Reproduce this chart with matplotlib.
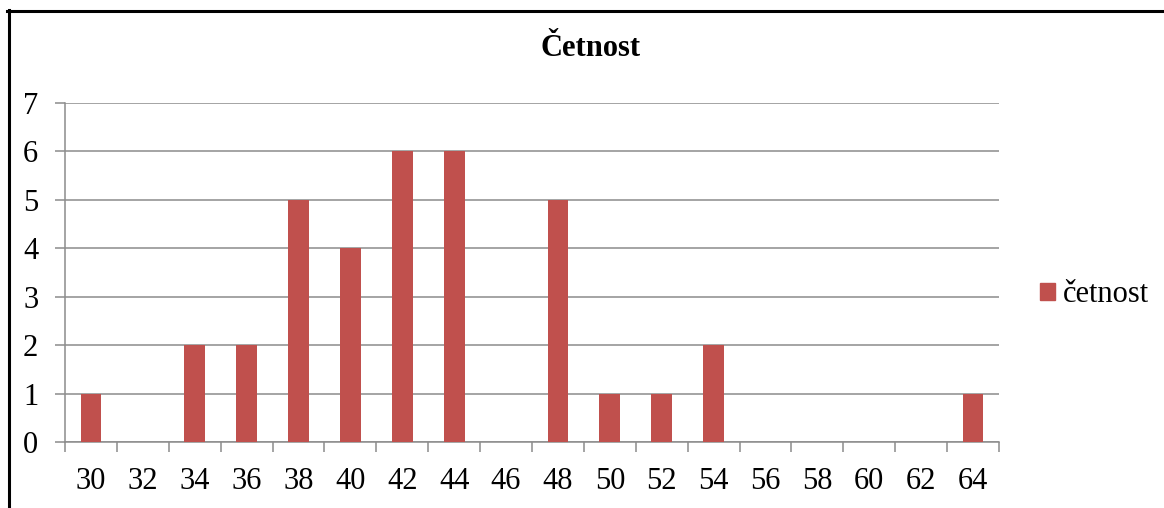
import matplotlib.pyplot as plt
from matplotlib.lines import Line2D
from matplotlib.patches import Patch

# frequency table
hodnoty = ['30', '32', '34', '36', '38', '40', '42', '44', '46', '48',
           '50', '52', '54', '56', '58', '60', '62', '64']
cetnost = [1, 0, 2, 2, 5, 4, 6, 6, 0, 5, 1, 1, 2, 0, 0, 0, 0, 1]

plt.rcParams['font.family'] = ['Liberation Serif', 'DejaVu Serif']

bar_color = '#C0504D'
grid_color = '#8C8C8C'

fig = plt.figure(figsize=(11.64, 5.08), dpi=100)
ax = fig.add_axes([65 / 1164, 66 / 508, 934 / 1164, 339 / 508])

x = list(range(len(hodnoty)))
ax.bar(x, cetnost, width=0.40, color=bar_color, zorder=3)

ax.set_xlim(-0.5, len(hodnoty) - 0.5)
ax.set_ylim(0, 7)
ax.set_yticks(range(0, 8))
ax.yaxis.grid(True, color=grid_color, linewidth=1.1, zorder=0)

# category ticks sit between bars, labels at bar centres
ax.set_xticks([i - 0.5 for i in range(len(hodnoty) + 1)])
ax.set_xticklabels([])
ax.set_xticks(x, hodnoty, minor=True)
ax.tick_params(axis='x', which='major', length=7.2, color=grid_color, width=1.1)
ax.tick_params(axis='x', which='minor', length=0, pad=18, labelsize=22)
ax.tick_params(axis='y', length=7.2, color=grid_color, width=1.1, pad=12, labelsize=22)

for s in ['top', 'right']:
    ax.spines[s].set_visible(False)
for s in ['left', 'bottom']:
    ax.spines[s].set_color(grid_color)
    ax.spines[s].set_linewidth(1.1)

fig.text(591 / 1164, 1 - 49 / 508, 'Četnost', ha='center', va='center',
         fontsize=22, fontweight='bold')

leg = fig.legend(handles=[Patch(color=bar_color, label='četnost')],
                 loc='center left', bbox_to_anchor=(1040 / 1164, 1 - 295 / 508),
                 frameon=False, fontsize=22, handlelength=0.5, handleheight=0.5,
                 handletextpad=0.25, borderpad=0, borderaxespad=0)

# chart frame, cut off at the right and bottom edges
fig.add_artist(Line2D([8.5 / 1164, 8.5 / 1164], [0, 1 - 10 / 508],
                      transform=fig.transFigure, color='black', linewidth=2.2))
fig.add_artist(Line2D([7 / 1164, 1], [1 - 10.5 / 508, 1 - 10.5 / 508],
                      transform=fig.transFigure, color='black', linewidth=2.2))

fig.savefig('out.png', dpi=100)
